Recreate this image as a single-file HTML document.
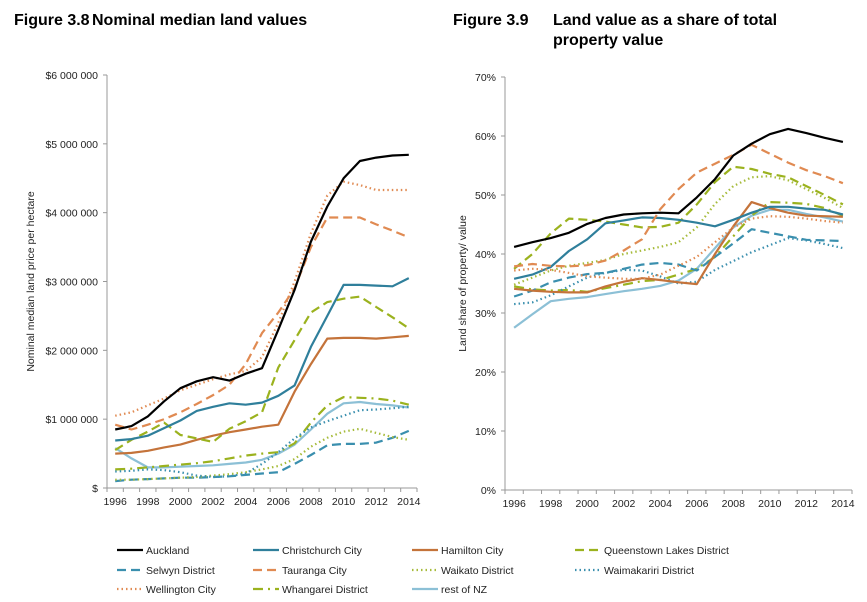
<!DOCTYPE html>
<html><head><meta charset="utf-8">
<style>
body{margin:0;background:#fff;font-family:"Liberation Sans",sans-serif;}
svg{display:block}
</style></head>
<body>
<svg id="c" width="867" height="602" xmlns="http://www.w3.org/2000/svg">
<text x="14" y="25" font-size="16" font-weight="bold" fill="#000">Figure 3.8<tspan x="92">Nominal median land values</tspan></text>
<text x="453" y="25" font-size="16" font-weight="bold" fill="#000">Figure 3.9<tspan x="553">Land value as a share of total</tspan><tspan x="553" dy="20">property value</tspan></text>
<g id="left"></g>
<g id="right"></g>
<g id="legend"></g>
</svg>
<script>
const years=[1996,1997,1998,1999,2000,2001,2002,2003,2004,2005,2006,2007,2008,2009,2010,2011,2012,2013,2014];
const seriesNames=["Auckland","Christchurch City","Hamilton City","Queenstown Lakes District","Selwyn District","Tauranga City","Waikato District","Waimakariri District","Wellington City","Whangarei District","rest of NZ"];
const leftTicks=["$","$1 000 000","$2 000 000","$3 000 000","$4 000 000","$5 000 000","$6 000 000"];
const rightTicks=["0%","10%","20%","30%","40%","50%","60%","70%"];
// Nominal median land values ($ millions per hectare)
const landAuckland=[0.85,0.9,1.04,1.26,1.45,1.55,1.61,1.56,1.66,1.74,2.3,2.88,3.58,4.09,4.5,4.75,4.8,4.83,4.84];
const landChristchurch=[0.69,0.71,0.76,0.87,0.98,1.12,1.18,1.23,1.21,1.24,1.34,1.49,2.05,2.5,2.95,2.95,2.94,2.93,3.05];
const landHamilton=[0.5,0.51,0.54,0.59,0.63,0.7,0.76,0.81,0.85,0.89,0.92,1.4,1.8,2.17,2.18,2.18,2.17,2.19,2.21];
const landQueenstown=[0.55,0.7,0.82,0.95,0.77,0.72,0.67,0.86,0.97,1.1,1.75,2.15,2.55,2.7,2.75,2.78,2.63,2.48,2.32];
const landSelwyn=[0.1,0.12,0.13,0.14,0.15,0.15,0.16,0.17,0.19,0.21,0.23,0.35,0.48,0.62,0.64,0.64,0.66,0.73,0.83];
const landTauranga=[0.92,0.85,0.92,1.0,1.1,1.22,1.35,1.5,1.8,2.25,2.55,2.9,3.5,3.93,3.93,3.93,3.83,3.74,3.64];
const landWaikato=[0.12,0.12,0.13,0.14,0.15,0.16,0.18,0.2,0.23,0.27,0.32,0.42,0.6,0.73,0.82,0.86,0.8,0.74,0.7];
const landWaimakariri=[0.24,0.25,0.27,0.26,0.23,0.18,0.16,0.17,0.21,0.35,0.52,0.72,0.88,0.97,1.05,1.13,1.14,1.16,1.18];
const landWellington=[1.05,1.1,1.2,1.3,1.42,1.5,1.58,1.65,1.7,1.9,2.4,3.0,3.7,4.25,4.45,4.4,4.33,4.33,4.33];
const landWhangarei=[0.27,0.28,0.3,0.32,0.34,0.36,0.39,0.43,0.47,0.5,0.52,0.65,0.95,1.2,1.32,1.31,1.3,1.27,1.21];
const landRest=[0.58,0.43,0.3,0.3,0.31,0.32,0.33,0.35,0.37,0.41,0.5,0.63,0.85,1.08,1.23,1.25,1.22,1.2,1.17];
// Land share of property value (%)
const shareAuckland=[41.2,42.0,42.7,43.6,45.1,46.1,46.7,46.9,47.0,46.9,49.6,52.7,56.7,58.7,60.3,61.2,60.5,59.7,59.0];
const shareChristchurch=[35.8,36.5,37.8,40.5,42.5,45.2,45.7,46.2,46.1,45.8,45.3,44.7,45.8,47.0,48.0,48.0,47.7,47.5,46.7];
const shareHamilton=[34.1,33.8,33.6,33.5,33.5,34.5,35.3,35.9,35.6,35.2,34.9,40.0,44.7,48.8,47.8,47.0,46.5,46.4,46.3];
const shareQueenstown=[37.5,40.0,43.5,46.0,45.8,45.5,45.0,44.5,44.6,45.3,48.4,52.2,54.8,54.4,53.6,53.0,51.5,50.0,48.4];
const shareSelwyn=[32.8,33.8,35.2,36.0,36.6,36.8,37.5,38.2,38.5,38.2,37.2,39.5,41.8,44.2,43.6,43.0,42.4,42.3,42.2];
const shareTauranga=[37.9,38.3,38.0,37.9,38.1,38.9,40.6,42.5,47.6,51.0,53.8,55.3,56.8,58.5,57.0,55.5,54.2,53.2,52.0];
const shareWaikato=[34.8,36.0,37.2,38.0,38.5,39.0,40.0,40.6,41.2,42.0,44.5,48.5,51.5,53.0,53.2,52.5,51.0,49.5,47.8];
const shareWaimakariri=[31.5,31.8,33.0,34.5,36.0,36.8,37.3,37.2,36.2,35.0,35.3,37.3,38.8,40.3,41.5,42.7,42.3,41.7,41.0];
const shareWellington=[37.2,37.5,37.3,36.8,36.2,36.0,35.8,35.8,36.5,38.0,39.5,42.0,44.5,46.0,46.4,46.3,46.0,45.6,45.3];
const shareWhangarei=[34.5,34.0,33.8,33.9,33.6,34.2,34.8,35.4,35.6,36.5,37.5,39.5,43.0,46.5,48.8,48.7,48.5,47.8,46.5];
const shareRest=[27.5,29.8,32.0,32.4,32.7,33.2,33.7,34.1,34.6,35.5,37.5,41.0,44.5,46.5,47.5,47.5,46.8,46.2,45.5];

const leftData=[landAuckland,landChristchurch,landHamilton,landQueenstown,landSelwyn,landTauranga,landWaikato,landWaimakariri,landWellington,landWhangarei,landRest];
const rightData=[shareAuckland,shareChristchurch,shareHamilton,shareQueenstown,shareSelwyn,shareTauranga,shareWaikato,shareWaimakariri,shareWellington,shareWhangarei,shareRest];
const styles=[
 {c:"#000000",d:""},{c:"#2f7f9b",d:""},{c:"#c4733a",d:""},{c:"#9bb21e",d:"9,5"},
 {c:"#3a8fae",d:"9,5"},{c:"#e08a52",d:"9,5"},{c:"#a6bb3a",d:"1.5,3"},{c:"#3a8fae",d:"1.5,3"},
 {c:"#e08a52",d:"1.5,3"},{c:"#9bb21e",d:"10,5,2,5"},{c:"#8cc0d6",d:""}];
const NS="http://www.w3.org/2000/svg";
function mk(tag,attrs,parent){const e=document.createElementNS(NS,tag);for(const k in attrs)e.setAttribute(k,attrs[k]);parent.appendChild(e);return e;}

function chart(g,cfg,data,prefix){
  const x0=cfg.x0,x1=cfg.x1,yb=cfg.yb,yt=cfg.yt;
  const bw=(x1-x0)/years.length;
  const xs=i=>x0+bw*(i+0.5);
  const ys=v=>yb-(v/cfg.max)*(yb-yt);
  const ax=mk("path",{d:`M${x0},${yt} V${yb} H${x1}`,stroke:"#999",fill:"none","stroke-width":1},g);
  
  
  cfg.ticks.forEach((t,i)=>{
    const v=i*cfg.step;
    const tk=mk("line",{x1:x0-4,x2:x0,y1:ys(v),y2:ys(v),stroke:"#999"},g);
    
    
    const tx=mk("text",{x:x0-9,y:ys(v)+4,"text-anchor":"end","font-size":10.5,fill:"#222"},g);
    tx.textContent=t;
    
    
  });
  for(let i=0;i<=years.length;i++){
    const tk=mk("line",{x1:x0+bw*i,x2:x0+bw*i,y1:yb,y2:yb+4,stroke:"#999"},g);
    
    
  }
  years.forEach((y,i)=>{if(i%2)return;
    const tx=mk("text",{x:xs(i),y:yb+17,"text-anchor":"middle","font-size":10.5,fill:"#222"},g);
    tx.textContent=y;
    
    
  });
  const lab=mk("text",{transform:`translate(${cfg.lx},${(yb+yt)/2}) rotate(-90)`,"text-anchor":"middle","font-size":10.5,fill:"#222"},g);
  lab.textContent=cfg.label;
  
  
  const order=[10,9,4,6,7,2,3,1,5,8,0];
  order.forEach(k=>{
    const d=data[k].map((v,i)=>(i?"L":"M")+xs(i).toFixed(1)+","+ys(v).toFixed(1)).join(" ");
    const p=mk("path",{d:d,fill:"none",stroke:styles[k].c,"stroke-width":2.2,"stroke-linejoin":"round"},g);
    if(styles[k].d)p.setAttribute("stroke-dasharray",styles[k].d);
    
    
  });
}
chart(document.getElementById("left"),{x0:107,x1:417,yb:488,yt:75,max:6,step:1,ticks:leftTicks,lx:34,label:"Nominal median land price per hectare"},leftData,"land-value");
chart(document.getElementById("right"),{x0:505,x1:852,yb:490,yt:77,max:70,step:10,ticks:rightTicks,lx:466,label:"Land share of property/ value"},rightData,"land-share");

const lg=document.getElementById("legend");
const colX=[146,282,441,604],rowY=[550,570,589];
seriesNames.forEach((n,k)=>{
  const cx=colX[k%4],cy=rowY[Math.floor(k/4)];
  const l=mk("line",{x1:cx-29,x2:cx-3,y1:cy,y2:cy,stroke:styles[k].c,"stroke-width":2.2},lg);
  if(styles[k].d)l.setAttribute("stroke-dasharray",styles[k].d);
  
  
  const t=mk("text",{x:cx,y:cy+4,"font-size":10.5,fill:"#222"},lg);
  t.textContent=n;
  
  
});
</script>
</body></html>
